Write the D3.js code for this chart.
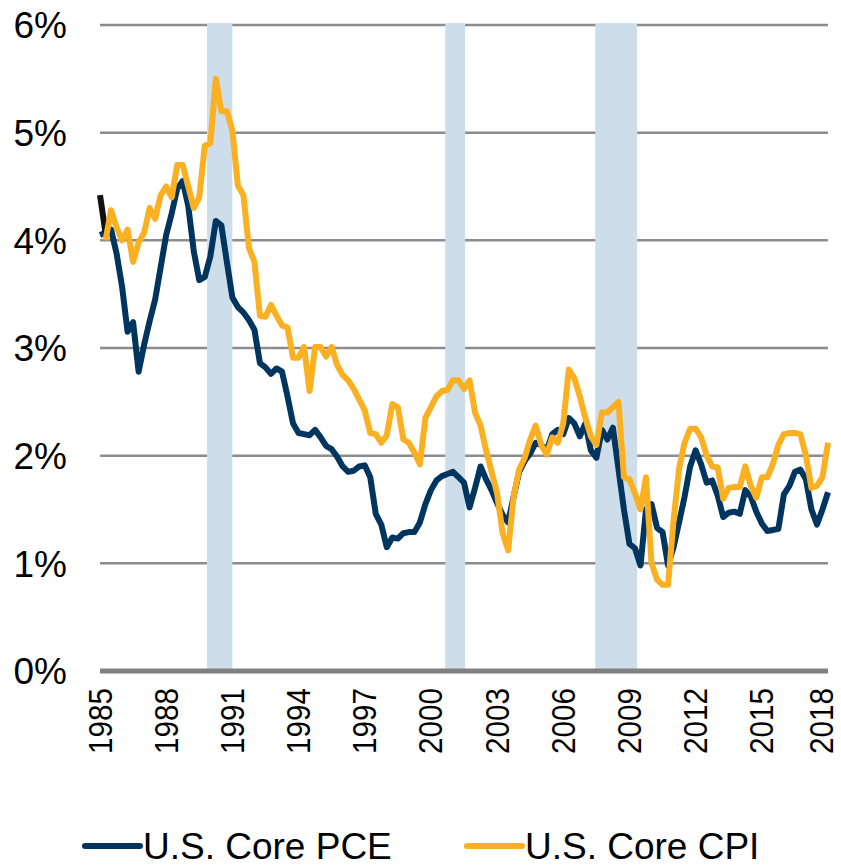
<!DOCTYPE html>
<html>
<head>
<meta charset="utf-8">
<script src="https://cdn.jsdelivr.net/npm/d3@7"></script>
<style>
  body { margin: 0; background: #fff; }
  svg { display: block; font-family: "Liberation Sans", Arial, sans-serif; }
</style>
</head>
<body>
<div id="chart"></div>
<script>
// quarterly, starting 1985 Q1
let startYear = 1985;
let pce = [4.05, 4.07, 4.10, 3.88, 3.57, 3.15, 3.24, 2.78, 3.03, 3.25, 3.45, 3.75,
    4.05, 4.25, 4.48, 4.55, 4.32, 3.90, 3.63, 3.66, 3.85, 4.18, 4.14, 3.80,
    3.47, 3.38, 3.33, 3.26, 3.17, 2.86, 2.82, 2.76, 2.81, 2.78, 2.55, 2.30,
    2.21, 2.20, 2.19, 2.24, 2.17, 2.09, 2.06, 1.99, 1.90, 1.85, 1.86, 1.90,
    1.91, 1.80, 1.46, 1.36, 1.15, 1.24, 1.23, 1.28, 1.29, 1.29, 1.38, 1.55,
    1.68, 1.77, 1.81, 1.83, 1.85, 1.80, 1.75, 1.52, 1.70, 1.90, 1.78, 1.68,
    1.56, 1.45, 1.38, 1.62, 1.85, 1.95, 2.02, 2.12, 2.10, 2.05, 2.20, 2.24,
    2.20, 2.35, 2.30, 2.18, 2.30, 2.05, 1.98, 2.24, 2.15, 2.26, 1.88, 1.50,
    1.18, 1.14, 0.98, 1.50, 1.55, 1.33, 1.29, 0.98, 1.15, 1.38, 1.62, 1.90,
    2.05, 1.92, 1.75, 1.77, 1.63, 1.43, 1.47, 1.48, 1.46, 1.68, 1.62, 1.48,
    1.37, 1.30, 1.31, 1.32, 1.64, 1.72, 1.85, 1.87, 1.78, 1.50, 1.36, 1.50, 1.66];
let cpi = [null, 4.00, 4.28, 4.12, 4.00, 4.10, 3.80, 3.98, 4.07, 4.30, 4.20, 4.42,
    4.50, 4.40, 4.70, 4.70, 4.50, 4.30, 4.40, 4.88, 4.90, 5.50, 5.20, 5.20,
    5.02, 4.51, 4.42, 3.93, 3.80, 3.30, 3.29, 3.40, 3.30, 3.21, 3.19, 2.91,
    2.91, 3.01, 2.60, 3.01, 3.01, 2.92, 3.01, 2.84, 2.75, 2.70, 2.62, 2.52,
    2.42, 2.21, 2.20, 2.12, 2.19, 2.48, 2.45, 2.15, 2.12, 2.03, 1.92, 2.35,
    2.45, 2.55, 2.60, 2.61, 2.70, 2.70, 2.62, 2.70, 2.40, 2.28, 2.05, 1.85,
    1.65, 1.28, 1.12, 1.62, 1.87, 1.98, 2.15, 2.28, 2.10, 2.01, 2.17, 2.12,
    2.30, 2.80, 2.72, 2.55, 2.35, 2.18, 2.10, 2.40, 2.40, 2.45, 2.50, 1.80,
    1.78, 1.65, 1.50, 1.80, 1.00, 0.85, 0.80, 0.80, 1.40, 1.88, 2.12, 2.25,
    2.25, 2.17, 2.00, 1.90, 1.89, 1.60, 1.70, 1.71, 1.71, 1.90, 1.72, 1.61,
    1.80, 1.80, 1.92, 2.10, 2.20, 2.21, 2.21, 2.20, 2.00, 1.70, 1.72, 1.80, 2.12];
// first PCE step shows in black in the source
let pceLead = [4.42, 4.07];
let recessions = [[1989.85, 1991.0], [2000.65, 2001.55], [2007.45, 2009.35]];
let yearTicks = [1985, 1988, 1991, 1994, 1997, 2000, 2003, 2006, 2009, 2012, 2015, 2018];
let pctTicks = [0, 1, 2, 3, 4, 5, 6];

let width = 841, height = 866;
let x = d3.scaleLinear().domain([1985, 2018]).range([100, 828]);
let y = d3.scaleLinear().domain([0, 6]).range([671, 25]);

let svg = d3.select("#chart").append("svg")
    .attr("width", width)
    .attr("height", height);

// grid
svg.append("g").selectAll("line")
    .data(pctTicks.filter(d => d > 0))
    .join("line")
    .attr("x1", x(1985)).attr("x2", x(2018))
    .attr("y1", d => y(d)).attr("y2", d => y(d))
    .attr("stroke", "#8c8c8c")
    .attr("stroke-width", 2.5);

// recession bands
svg.append("g").selectAll("rect")
    .data(recessions)
    .join("rect")
    .attr("x", d => x(d[0]))
    .attr("width", d => x(d[1]) - x(d[0]))
    .attr("y", y(6) - 1.5)
    .attr("height", y(0) - y(6) + 1.5)
    .attr("fill", "#cddde9");

// zero axis
svg.append("line")
    .attr("x1", x(1985)).attr("x2", x(2018))
    .attr("y1", y(0)).attr("y2", y(0))
    .attr("stroke", "#808080")
    .attr("stroke-width", 5);

// y labels
svg.append("g").selectAll("text")
    .data(pctTicks)
    .join("text")
    .attr("x", 67)
    .attr("y", d => y(d))
    .attr("dy", "0.36em")
    .attr("text-anchor", "end")
    .attr("font-size", 37)
    .attr("fill", "#000")
    .text(d => d + "%");

// x labels (rotated, condensed like the source)
svg.append("g").selectAll("text")
    .data(yearTicks)
    .join("text")
    .attr("transform", d => `translate(${Math.min(x(d), 821)},688) rotate(-90)`)
    .attr("dy", "0.34em")
    .attr("text-anchor", "end")
    .attr("font-size", 34)
    .attr("textLength", 66)
    .attr("lengthAdjust", "spacingAndGlyphs")
    .attr("fill", "#000")
    .text(d => d);

let qx = (d, i) => x(startYear + i / 4);
let line = d3.line()
    .defined(d => d != null)
    .x(qx)
    .y(d => y(d));

svg.append("path")
    .datum(pce)
    .attr("d", line)
    .attr("fill", "none")
    .attr("stroke", "#00355f")
    .attr("stroke-width", 6)
    .attr("stroke-linejoin", "round");

svg.append("path")
    .datum(pceLead)
    .attr("d", line)
    .attr("fill", "none")
    .attr("stroke", "#111")
    .attr("stroke-width", 6);

svg.append("path")
    .datum(cpi)
    .attr("d", line)
    .attr("fill", "none")
    .attr("stroke", "#fbb022")
    .attr("stroke-width", 6)
    .attr("stroke-linejoin", "round");

// legend
let legend = [
    {name: "U.S. Core PCE", color: "#00355f", x: 85},
    {name: "U.S. Core CPI", color: "#fbb022", x: 467}
];
let lg = svg.append("g").selectAll("g")
    .data(legend)
    .join("g")
    .attr("transform", d => `translate(${d.x},846)`);
lg.append("line")
    .attr("x1", 0).attr("x2", 55)
    .attr("stroke", d => d.color)
    .attr("stroke-width", 6)
    .attr("stroke-linecap", "round");
lg.append("text")
    .attr("x", 58)
    .attr("dy", "0.36em")
    .attr("font-size", 37)
    .attr("fill", "#000")
    .text(d => d.name);
</script>
</body>
</html>
